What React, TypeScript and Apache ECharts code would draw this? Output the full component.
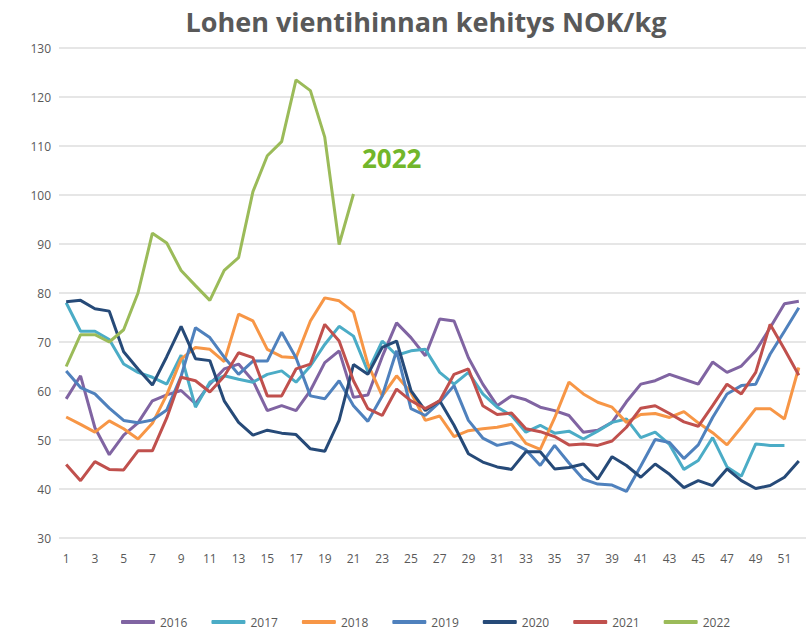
import React, { useEffect, useRef } from "react";
import * as echarts from "echarts";

const weeks: string[] = Array.from({ length: 52 }, (_, i) => String(i + 1));

const y2016 = [58.4, 63.1, 52.5, 47, 51, 53.5, 58, 59.2, 60.1, 57.4, 61.4, 64.5, 65.5, 62.1, 56, 57, 56, 60.1, 65.8, 68.2, 58.7, 59.2, 67, 73.9, 70.9, 67.2, 74.7, 74.3, 66.8, 61.4, 57, 59, 58.2, 56.7, 56, 55, 51.6, 52, 53.6, 57.8, 61.4, 62.1, 63.4, 62.4, 61.4, 65.9, 63.8, 65.1, 68.2, 72.9, 77.8, 78.3];
const y2017 = [78, 72.2, 72.2, 70.5, 65.5, 63.8, 62.8, 61.4, 67.3, 56.7, 61.8, 63.1, 62.4, 61.8, 63.4, 64.1, 61.8, 65.1, 69.5, 73.2, 71.2, 64, 70.2, 67.3, 68.2, 68.5, 63.8, 61.4, 63.8, 59.4, 56.7, 55, 51.6, 53, 51.4, 51.8, 50.2, 51.8, 53.6, 54.3, 50.5, 51.6, 49.1, 44, 45.8, 50.5, 44.5, 42.6, 49.2, 48.9, 48.9, null];
const y2018 = [54.7, 53.2, 51.6, 53.9, 52.3, 50.2, 53.4, 59.2, 66.5, 68.9, 68.5, 66, 75.7, 74.3, 68.5, 67, 66.8, 74.3, 79, 78.4, 76.1, 65.5, 59, 63.1, 59.7, 54, 54.9, 50.7, 51.9, 52.3, 52.6, 53.2, 49.3, 48.1, 54.5, 61.8, 59.4, 57.7, 56.7, 53.6, 55.2, 55.4, 54.6, 55.8, 53.5, 51.5, 49, 52.6, 56.4, 56.4, 54.3, 64.8];
const y2019 = [64.1, 60.7, 59.4, 56.5, 54, 53.5, 54.1, 56.1, 63, 72.9, 70.9, 66.9, 63.4, 66.1, 66.1, 72, 66.8, 59, 58.4, 62.1, 57, 53.8, 59, 68.2, 56.4, 55, 57.7, 61.1, 54, 50.4, 48.9, 49.5, 48, 44.8, 48.9, 45.3, 42, 41, 40.8, 39.5, 44.7, 50.1, 49.5, 46.2, 49, 54.6, 59.4, 61.1, 61.4, 67.5, 72.2, 77];
const y2020 = [78.2, 78.5, 76.8, 76.3, 68, 64.5, 61.2, 67, 73.2, 66.6, 66.2, 58, 53.6, 51, 52, 51.4, 51.1, 48.2, 47.7, 54, 65.4, 63.4, 68.9, 70.2, 60.1, 56, 58, 53, 47.2, 45.5, 44.5, 44, 47.6, 47.6, 44.1, 44.4, 45.1, 42, 46.6, 44.8, 42.4, 45.1, 43, 40.3, 41.7, 40.7, 44.1, 41.7, 40.1, 40.7, 42.4, 45.7];
const y2021 = [45, 41.7, 45.6, 44, 43.9, 47.8, 47.8, 54.5, 62.8, 62.1, 59.8, 63, 67.8, 66.8, 59, 59, 64.5, 65.5, 73.6, 70.2, 62.1, 56.4, 55, 60.4, 58, 56.4, 58, 63.4, 64.5, 57, 55.2, 55.5, 52.3, 51.7, 50.7, 49, 49.2, 48.9, 49.8, 52.6, 56.5, 57, 55.4, 53.7, 52.8, 57, 61.4, 59.4, 63.8, 73.6, 68.5, 63.2];
const y2022 = [65, 71.5, 71.5, 70, 72.5, 80, 92.2, 90.2, 84.6, 81.5, 78.5, 84.6, 87.2, 100.7, 108, 110.9, 123.5, 121.3, 111.8, 89.9, 100.2];

const seriesNames = ["2016", "2017", "2018", "2019", "2020", "2021", "2022"];
const seriesData = [y2016, y2017, y2018, y2019, y2020, y2021, y2022];
const colors = ["#8064a2", "#4bacc6", "#f79646", "#4f81bd", "#264a78", "#c0504d", "#9bbb59"];

const yTicks = { min: 30, max: 130, interval: 10 };
const annotation = "2022";
const titleText = "Lohen vientihinnan kehitys NOK/kg";

export default function App() {
  const ref = useRef<HTMLDivElement>(null);
  useEffect(() => {
    if (!ref.current) return;
    const chart = echarts.init(ref.current, undefined, { renderer: "svg" });
    const font = "'Open Sans', 'Noto Sans', sans-serif";
    chart.setOption({
      animation: false,
      backgroundColor: "#ffffff",
      color: colors,
      textStyle: { fontFamily: font },
      title: {
        text: titleText,
        left: 421,
        top: 3,
        textAlign: "center",
        textStyle: { fontSize: 27, fontWeight: "bold", color: "#595959", fontFamily: font },
      },
      grid: { left: 59, right: 5, top: 48, bottom: 95, containLabel: false },
      legend: {
        data: seriesNames,
        left: 116,
        top: 611,
        icon: "roundRect",
        itemWidth: 34,
        itemHeight: 4,
        itemGap: 24,
        textStyle: { fontSize: 12, color: "#595959", fontFamily: font },
      },
      xAxis: {
        type: "category",
        data: weeks,
        boundaryGap: true,
        axisLine: { show: false },
        axisTick: { show: false },
        axisLabel: { interval: 1, color: "#595959", fontSize: 12, margin: 14 },
      },
      yAxis: {
        type: "value",
        min: yTicks.min,
        max: yTicks.max,
        interval: yTicks.interval,
        axisLine: { show: false },
        axisTick: { show: false },
        axisLabel: { color: "#595959", fontSize: 12, margin: 8 },
        splitLine: { lineStyle: { color: "#dedede", width: 1.5 } },
      },
      series: seriesNames.map((name, i) => ({
        name,
        type: "line",
        data: seriesData[i],
        showSymbol: false,
        symbol: "none",
        lineStyle: { width: 3, color: colors[i] },
        itemStyle: { color: colors[i] },
        connectNulls: false,
      })),
      graphic: [
        {
          type: "text",
          left: 362,
          top: 145,
          style: {
            text: annotation,
            fill: "#72b62b",
            font: "bold 26px 'Open Sans', 'Noto Sans', sans-serif",
          },
        },
      ],
    });
    return () => chart.dispose();
  }, []);
  return <div ref={ref} style={{ width: 811, height: 633, position: "absolute", left: 0, top: 0 }} />;
}
